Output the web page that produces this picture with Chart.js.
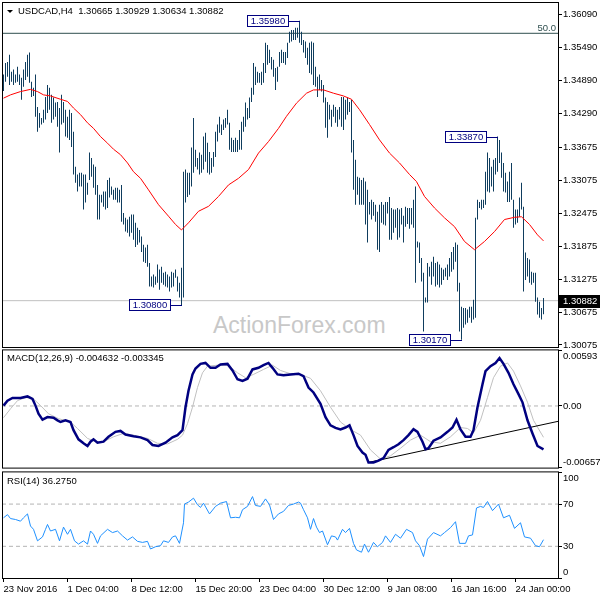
<!DOCTYPE html>
<html>
<head>
<meta charset="utf-8">
<title>USDCAD,H4</title>
<script src="https://cdn.jsdelivr.net/npm/chart.js@4.4.1/dist/chart.umd.min.js"></script>
<style>
    body { margin: 0; background: #fff; }
    #wrap { position: relative; width: 600px; height: 600px; overflow: hidden; font-family: 'Liberation Sans', Arial, sans-serif; }
    canvas { position: absolute; left: 0; }
    .txt { position: absolute; font-size: 9.5px; line-height: 12px; color: #000; white-space: pre; }
    .mark { position: absolute; font-size: 23px; line-height: 23px; color: #c8c8c8; white-space: pre; }
    .tri { position: absolute; left: 7px; top: 10px; width: 0; height: 0; border-left: 3px solid transparent; border-right: 3px solid transparent; border-top: 3px solid #000; }
</style>
</head>
<body>
<div id="wrap">
    <div class="mark" style="left:213px;top:314px">ActionForex.com</div>
    <canvas id="main" width="600" height="368" style="top:-9px"></canvas>
    <canvas id="macd" width="600" height="142" style="top:338px"></canvas>
    <canvas id="rsi" width="600" height="140" style="top:460px"></canvas>
    <div class="tri"></div>
    <div class="txt" style="left:18px;top:5px">USDCAD,H4  1.30665 1.30929 1.30634 1.30882</div>
    <div class="txt" style="right:44px;top:22px;color:#2f4f4f">50.0</div>
    <div class="txt" style="left:7px;top:352px">MACD(12,26,9) -0.004632 -0.003345</div>
    <div class="txt" style="left:7px;top:475px">RSI(14) 36.2750</div>
</div>
<script>
(function () {
    'use strict';

    // H4 bars, one entry per bar (index 0 = first bar on the left)
    var barHigh = [
        1.3500, 1.3521, 1.3523, 1.3536, 1.3505, 1.3509, 1.3500, 1.3514, 1.3500, 1.3494,
        1.3509, 1.3523, 1.3536, 1.3540, 1.3487, 1.3476, 1.3500, 1.3441, 1.3430, 1.3421,
        1.3436, 1.3459, 1.3481, 1.3476, 1.3463, 1.3458, 1.3449, 1.3450, 1.3439, 1.3463,
        1.3450, 1.3436, 1.3423, 1.3436, 1.3430, 1.3396, 1.3332, 1.3318, 1.3321, 1.3321,
        1.3318, 1.3318, 1.3303, 1.3358, 1.3348, 1.3336, 1.3332, 1.3299, 1.3281, 1.3281,
        1.3287, 1.3287, 1.3308, 1.3312, 1.3296, 1.3290, 1.3294, 1.3294, 1.3290, 1.3299,
        1.3248, 1.3239, 1.3236, 1.3241, 1.3245, 1.3245, 1.3230, 1.3221, 1.3217, 1.3205,
        1.3190, 1.3185, 1.3190, 1.3157, 1.3132, 1.3136, 1.3132, 1.3154, 1.3145, 1.3150,
        1.3139, 1.3141, 1.3136, 1.3132, 1.3141, 1.3139, 1.3145, 1.3132, 1.3121, 1.3148,
        1.3323, 1.3327, 1.3321, 1.3321, 1.3367, 1.3421, 1.3363, 1.3348, 1.3358, 1.3354,
        1.3387, 1.3394, 1.3376, 1.3359, 1.3348, 1.3359, 1.3396, 1.3409, 1.3423, 1.3409,
        1.3418, 1.3421, 1.3436, 1.3412, 1.3385, 1.3381, 1.3385, 1.3381, 1.3399, 1.3414,
        1.3423, 1.3449, 1.3439, 1.3458, 1.3476, 1.3521, 1.3514, 1.3505, 1.3503, 1.3505,
        1.3521, 1.3558, 1.3554, 1.3545, 1.3532, 1.3527, 1.3512, 1.3514, 1.3541, 1.3545,
        1.3541, 1.3541, 1.3558, 1.3578, 1.3581, 1.3581, 1.3585, 1.3585, 1.3598, 1.3578,
        1.3563, 1.3560, 1.3549, 1.3558, 1.3560, 1.3558, 1.3514, 1.3496, 1.3500, 1.3490,
        1.3481, 1.3458, 1.3450, 1.3445, 1.3436, 1.3445, 1.3441, 1.3436, 1.3441, 1.3459,
        1.3459, 1.3454, 1.3458, 1.3450, 1.3454, 1.3381, 1.3345, 1.3314, 1.3312, 1.3308,
        1.3312, 1.3305, 1.3290, 1.3268, 1.3272, 1.3268, 1.3263, 1.3250, 1.3263, 1.3268,
        1.3263, 1.3268, 1.3268, 1.3277, 1.3257, 1.3254, 1.3254, 1.3257, 1.3254, 1.3257,
        1.3243, 1.3259, 1.3257, 1.3257, 1.3257, 1.3272, 1.3296, 1.3196, 1.3194, 1.3166,
        1.3139, 1.3094, 1.3157, 1.3150, 1.3159, 1.3168, 1.3157, 1.3159, 1.3154, 1.3148,
        1.3145, 1.3148, 1.3154, 1.3166, 1.3177, 1.3186, 1.3194, 1.3190, 1.3121, 1.3077,
        1.3075, 1.3075, 1.3072, 1.3077, 1.3077, 1.3090, 1.3239, 1.3272, 1.3268, 1.3272,
        1.3272, 1.3323, 1.3358, 1.3348, 1.3332, 1.3345, 1.3348, 1.3387, 1.3381, 1.3358,
        1.3339, 1.3321, 1.3305, 1.3323, 1.3339, 1.3272, 1.3254, 1.3254, 1.3276, 1.3303,
        1.3259, 1.3176, 1.3166, 1.3163, 1.3141, 1.3139, 1.3139, 1.3094, 1.3086, 1.3075,
        1.30929
    ];
    var barLow = [
        1.3470, 1.3487, 1.3496, 1.3481, 1.3487, 1.3481, 1.3485, 1.3487, 1.3481, 1.3454,
        1.3478, 1.3490, 1.3496, 1.3485, 1.3459, 1.3461, 1.3423, 1.3396, 1.3403, 1.3409,
        1.3412, 1.3418, 1.3430, 1.3436, 1.3412, 1.3418, 1.3423, 1.3405, 1.3358, 1.3409,
        1.3412, 1.3387, 1.3385, 1.3381, 1.3368, 1.3318, 1.3303, 1.3287, 1.3296, 1.3296,
        1.3254, 1.3267, 1.3281, 1.3308, 1.3314, 1.3294, 1.3281, 1.3236, 1.3236, 1.3267,
        1.3259, 1.3254, 1.3257, 1.3276, 1.3281, 1.3272, 1.3272, 1.3267, 1.3267, 1.3232,
        1.3227, 1.3214, 1.3212, 1.3205, 1.3212, 1.3199, 1.3186, 1.3190, 1.3194, 1.3177,
        1.3159, 1.3157, 1.3150, 1.3114, 1.3114, 1.3112, 1.3117, 1.3121, 1.3108, 1.3121,
        1.3117, 1.3114, 1.3112, 1.3105, 1.3112, 1.3114, 1.3130, 1.3105, 1.3094, 1.3080,
        1.3094, 1.3267, 1.3277, 1.3281, 1.3296, 1.3321, 1.3332, 1.3327, 1.3318, 1.3321,
        1.3327, 1.3341, 1.3321, 1.3318, 1.3321, 1.3332, 1.3350, 1.3378, 1.3394, 1.3390,
        1.3399, 1.3403, 1.3409, 1.3363, 1.3359, 1.3359, 1.3359, 1.3359, 1.3363, 1.3363,
        1.3396, 1.3405, 1.3418, 1.3421, 1.3450, 1.3463, 1.3481, 1.3485, 1.3485, 1.3481,
        1.3485, 1.3503, 1.3518, 1.3521, 1.3509, 1.3496, 1.3472, 1.3487, 1.3514, 1.3521,
        1.3521, 1.3518, 1.3530, 1.3558, 1.3560, 1.3563, 1.3563, 1.3567, 1.3558, 1.3554,
        1.3540, 1.3530, 1.3518, 1.3503, 1.3500, 1.3481, 1.3478, 1.3459, 1.3472, 1.3469,
        1.3449, 1.3403, 1.3385, 1.3418, 1.3405, 1.3423, 1.3412, 1.3405, 1.3418, 1.3405,
        1.3399, 1.3418, 1.3427, 1.3432, 1.3358, 1.3290, 1.3263, 1.3281, 1.3263, 1.3263,
        1.3263, 1.3227, 1.3194, 1.3245, 1.3236, 1.3243, 1.3232, 1.3181, 1.3177, 1.3230,
        1.3227, 1.3225, 1.3247, 1.3199, 1.3199, 1.3212, 1.3221, 1.3199, 1.3203, 1.3227,
        1.3194, 1.3223, 1.3228, 1.3219, 1.3227, 1.3221, 1.3121, 1.3185, 1.3157, 1.3123,
        1.3032, 1.3085, 1.3085, 1.3132, 1.3117, 1.3132, 1.3114, 1.3117, 1.3112, 1.3117,
        1.3126, 1.3132, 1.3126, 1.3132, 1.3141, 1.3145, 1.3159, 1.3105, 1.3032, 1.3017,
        1.3039, 1.3045, 1.3048, 1.3057, 1.3048, 1.3054, 1.3057, 1.3236, 1.3257, 1.3254,
        1.3257, 1.3263, 1.3287, 1.3285, 1.3296, 1.3287, 1.3318, 1.3323, 1.3339, 1.3312,
        1.3287, 1.3285, 1.3268, 1.3268, 1.3272, 1.3221, 1.3227, 1.3230, 1.3241, 1.3254,
        1.3105, 1.3126, 1.3132, 1.3121, 1.3117, 1.3121, 1.3086, 1.3063, 1.3057, 1.3054,
        1.30634
    ];

    // red moving average, read at bar positions
    var maIndex = [0, 3.5, 8.5, 13.5, 17, 20, 23.5, 28.5, 32, 35, 38.5, 42, 45, 48.5, 52, 55, 58.5, 62, 65, 68.5,
        72.5, 77.5, 82.5, 86, 89, 92.5, 97.5, 102.5, 107.5, 112.5, 117.5, 122.5, 127.5, 132.5, 137.5, 141.5, 146.5, 151.5, 155, 160,
        165, 170, 174, 178, 183, 188, 193, 198, 203, 206.5, 210.5, 215.5, 220.5, 225.5, 230.5, 235.5, 240.5, 245.5, 250.5, 255.5,
        259, 263, 267, 270];
    var maValue = [1.3457, 1.3463, 1.3469, 1.3473, 1.3469, 1.3463, 1.3461, 1.3455, 1.3451, 1.3439, 1.3427, 1.3412, 1.3402, 1.3387, 1.3375, 1.3364, 1.3354, 1.3339, 1.3323, 1.3311,
        1.3290, 1.3263, 1.3242, 1.3227, 1.3217, 1.3230, 1.3251, 1.3260, 1.3278, 1.3299, 1.3311, 1.3327, 1.3357, 1.3378, 1.3402, 1.3424, 1.3448, 1.3466, 1.3472, 1.3472,
        1.3466, 1.3461, 1.3455, 1.3436, 1.3409, 1.3381, 1.3357, 1.3339, 1.3318, 1.3305, 1.3278, 1.3257, 1.3239, 1.3223, 1.3196, 1.3181, 1.3196, 1.3214, 1.3236, 1.3240,
        1.3241, 1.3227, 1.3208, 1.3197];

    var macdIndex = [0, 2, 4.5, 8.5, 12, 14.5, 16, 17.5, 19.5, 22, 25, 27, 28.5, 31, 33.5, 35, 37.5, 40, 42, 43.5,
        45, 47, 50, 52.5, 56, 58.5, 61, 65, 68.5, 72, 74.5, 77.5, 81, 84.5, 87, 89.5, 91, 92.5, 94.5, 96,
        98.5, 101, 103.5, 106, 108.5, 112, 114.5, 117, 119.5, 122, 124.5, 127.5, 130, 132.5, 134.5, 137, 140, 143.5, 147.5, 150,
        152.5, 155, 158.5, 161, 163.5, 166, 168.5, 171, 173, 175, 177, 179.5, 181, 182.5, 185, 187.5, 190, 192.5, 195, 197.5,
        200, 202.5, 205, 207, 209.5, 211, 212.5, 215, 218.5, 222, 224.5, 226.5, 228.5, 231, 233.5, 235, 237, 239.5, 241, 243.5,
        246, 248, 250, 252.5, 255, 257.5, 259.5, 262, 264.5, 267, 270];
    var macdValue = [0.00004, 0.00057, 0.00085, 0.00085, 0.00102, 0.00075, 0.00004, -0.00083, -0.00146, -0.00119,
        -0.00125, -0.00153, -0.00171, -0.00153, -0.00171, -0.00258, -0.00356, -0.00398, -0.00427, -0.00381,
        -0.00356, -0.00392, -0.00381, -0.00329, -0.00276, -0.00266, -0.00304, -0.00322, -0.00335, -0.00364,
        -0.00416, -0.00427, -0.00392, -0.00335, -0.00311, -0.00258, -0.00014, 0.00162, 0.00337, 0.00400,
        0.00449, 0.00459, 0.00407, 0.00407, 0.00442, 0.00449, 0.00379, 0.00285, 0.00267, 0.00291,
        0.00390, 0.00407, 0.00435, 0.00459, 0.00407, 0.00337, 0.00327, 0.00337, 0.00344, 0.00319,
        0.00197, 0.00144, 0.00022, -0.00119, -0.00206, -0.00234, -0.00251, -0.00230, -0.00206, -0.00311,
        -0.00427, -0.00497, -0.00521, -0.00602, -0.00602, -0.00584, -0.00556, -0.00469, -0.00440, -0.00409,
        -0.00364, -0.00311, -0.00248, -0.00276, -0.00381, -0.00461, -0.00451, -0.00371, -0.00335, -0.00276,
        -0.00230, -0.00146, -0.00251, -0.00329, -0.00329, -0.00258, -0.00014, 0.00232, 0.00372, 0.00425,
        0.00459, 0.00512, 0.00449, 0.00354, 0.00232, 0.00127, 0.00039, -0.00153, -0.00293, -0.00427,
        -0.004632];

    var signalIndex = [0, 3.5, 7, 11, 15, 18.5, 22.5, 27.5, 33.5, 37, 42, 46, 50, 55, 60, 65, 72, 77, 82, 87,
        89.5, 92, 94.5, 97, 99.5, 102, 107, 112, 117, 121, 125, 130, 134.5, 138.5, 143.5, 148.5, 153.5, 158.5, 163.5, 168.5,
        173.5, 178.5, 183.5, 188.5, 193.5, 198.5, 203.5, 208.5, 213.5, 218.5, 223.5, 228.5, 232, 235, 238.5, 242, 245, 248.5, 252, 255,
        258.5, 262, 265, 270];
    var signalValue = [-0.00125, -0.00030, 0.00057, 0.00091, 0.00075, 0.00005, -0.00083, -0.00135, -0.00171, -0.00240,
        -0.00346, -0.00381, -0.00381, -0.00329, -0.00293, -0.00311, -0.00346, -0.00398, -0.00405, -0.00356,
        -0.00311, -0.00188, -0.00013, 0.00197, 0.00354, 0.00425, 0.00435, 0.00435, 0.00354, 0.00302,
        0.00337, 0.00390, 0.00435, 0.00379, 0.00344, 0.00337, 0.00295, 0.00162, -0.00013, -0.00171,
        -0.00251, -0.00311, -0.00469, -0.00566, -0.00532, -0.00451, -0.00364, -0.00311, -0.00381, -0.00398,
        -0.00329, -0.00230, -0.00240, -0.00287, -0.00153, 0.00091, 0.00302, 0.00425, 0.00459, 0.00372,
        0.00214, 0.00039, -0.00153, -0.003345];

    var rsiIndex = [0, 2, 3.5, 6, 8.5, 10, 12, 13.5, 15, 17, 19.5, 21, 22, 23.5, 26, 28, 30, 32, 33.5, 35.5,
        37.5, 40, 42, 43.5, 45, 47, 48.5, 52, 54.5, 57, 59.5, 62, 64.5, 67, 69.5, 72, 73.5, 76, 78.5, 80,
        82.5, 84.5, 86, 88, 90, 90.5, 92.5, 95, 97, 98.5, 100, 103, 106, 108.5, 111.5, 113.5, 116, 118, 119.5, 122,
        124.5, 126, 128.5, 131, 133, 135, 137.5, 140, 142.5, 145, 147.5, 148.5, 150, 152, 153.5, 155, 156.5, 158, 159.5, 162,
        164, 166, 167, 169.5, 171, 173, 175, 176.5, 179, 180.5, 182.5, 185, 187, 189.5, 191, 193.5, 196, 198.5, 201.5, 204.5,
        206, 208, 210, 212, 215, 218.5, 220.5, 223.5, 226, 228, 231, 232.5, 234.5, 236.5, 238.5, 240, 242, 244.5, 247.5, 250,
        253, 255.5, 258.5, 260.5, 263.5, 266, 268, 270];
    var rsiValue = [57.0, 60.0, 56.3, 55.4, 53.8, 57.0, 60.7, 49.2, 46.1, 35.2, 38.9, 46.1, 50.7, 44.5, 46.1, 35.2, 48.2, 41.4, 46.1, 35.2,
        32.1, 35.2, 32.1, 44.5, 41.4, 32.8, 39.9, 46.1, 43.0, 44.5, 39.9, 35.9, 38.9, 34.7, 33.7, 34.7, 27.5, 29.6, 30.6, 35.2,
        33.7, 38.9, 39.9, 32.8, 52.3, 70.0, 71.9, 75.6, 69.3, 66.8, 70.9, 60.7, 67.8, 70.9, 72.4, 57.0, 57.5, 57.0, 64.7, 67.8,
        77.1, 68.7, 67.8, 74.9, 69.3, 55.4, 60.7, 63.1, 68.7, 70.0, 71.9, 70.9, 64.7, 57.0, 46.1, 56.3, 48.2, 43.0, 44.5, 31.5,
        39.9, 38.9, 35.9, 46.1, 43.0, 47.0, 32.8, 26.6, 24.4, 32.1, 24.4, 33.7, 29.6, 33.7, 39.9, 33.7, 41.4, 37.7, 46.1, 43.0,
        35.2, 30.6, 20.3, 36.8, 43.0, 39.9, 43.0, 47.7, 53.3, 32.8, 32.8, 39.9, 40.8, 66.3, 67.8, 66.8, 72.4, 63.8, 70.0, 57.0,
        59.4, 47.0, 52.3, 38.9, 37.7, 30.6, 29.6, 36.275];

    // MACD support line drawn by hand on the chart
    var trendIndex = [182.5, 277.25];
    var trendValue = [-0.00602, -0.00164];

    var priceTicks = [1.36090, 1.35490, 1.34890, 1.34290, 1.33675, 1.33075, 1.32475, 1.31875, 1.31275, 1.30675, 1.30075];
    var macdTicks = [0.00593, 0, -0.006575];
    var rsiTicks = [100, 70, 30, 0];
    var rsiLevels = [70, 30];
    var timeTickIndex = [0, 32, 64, 96, 128, 160, 192, 224, 256];
    var timeLabels = ['23 Nov 2016', '1 Dec 04:00', '8 Dec 12:00', '15 Dec 20:00', '23 Dec 04:00',
        '30 Dec 12:00', '9 Jan 08:00', '16 Jan 16:00', '24 Jan 00:00'];

    var tagIndex = [148, 89, 247, 229];
    var tagPrice = [1.35980, 1.30800, 1.33870, 1.30170];
    var fiboLevel = 1.35751;
    var lastClose = 1.30882;

    var X_MIN = -0.75;
    var X_MAX = 277.25;
    var PAD = 12;
    var FONT = "'Liberation Sans', Arial, sans-serif";

    Chart.defaults.font.family = FONT;
    Chart.defaults.font.size = 9.5;
    Chart.defaults.color = '#000';

    function pairs(xs, ys) {
        return xs.map(function (x, k) {
            return { x: x, y: ys[k] };
        });
    }

    function level(value) {
        return [{ x: X_MIN, y: value }, { x: X_MAX, y: value }];
    }

    function lineSet(data, color, width, order, dash) {
        return {
            type: 'line',
            data: data,
            borderColor: color,
            borderWidth: width,
            borderDash: dash || [],
            pointRadius: 0,
            tension: 0,
            order: order
        };
    }

    function xAxis(show) {
        return {
            type: 'linear',
            display: show,
            min: X_MIN,
            max: X_MAX,
            offset: false,
            grid: { drawOnChartArea: false, drawTicks: true, tickLength: 4, color: '#000' },
            border: { display: false },
            afterBuildTicks: function (scale) {
                scale.ticks = timeTickIndex.map(function (v) { return { value: v }; });
            },
            afterFit: function (scale) {
                scale.height = show ? 22 : 0;
            },
            ticks: {
                autoSkip: false,
                maxRotation: 0,
                minRotation: 0,
                align: 'start',
                padding: 2,
                callback: function (value) {
                    var k = timeTickIndex.indexOf(value);
                    return k < 0 ? '' : timeLabels[k];
                }
            }
        };
    }

    function yAxis(min, max, values, label) {
        return {
            type: 'linear',
            position: 'right',
            min: min,
            max: max,
            grid: { drawOnChartArea: false, drawTicks: true, tickLength: 4, color: '#000' },
            border: { display: false },
            afterBuildTicks: function (scale) {
                scale.ticks = values.map(function (v) { return { value: v }; });
            },
            afterFit: function (scale) {
                scale.width = 42;
            },
            ticks: { autoSkip: false, padding: 1, callback: label }
        };
    }

    var framePlugin = {
        id: 'panelFrame',
        afterDraw: function (chart) {
            var a = chart.chartArea;
            var ctx = chart.ctx;
            ctx.save();
            ctx.strokeStyle = '#000';
            ctx.lineWidth = 1;
            ctx.strokeRect(a.left + 0.5, a.top - 0.5, a.right - a.left, a.bottom - a.top + 1);
            ctx.restore();
        }
    };

    var tagPlugin = {
        id: 'priceTags',
        afterDatasetsDraw: function (chart) {
            var xs = chart.scales.x;
            var ys = chart.scales.y;
            var ctx = chart.ctx;

            ctx.save();
            ctx.font = '9.5px ' + FONT;
            ctx.textBaseline = 'middle';
            ctx.lineWidth = 1;

            tagIndex.forEach(function (idx, k) {
                var bx = Math.floor(xs.getPixelForValue(idx));
                var by = Math.round(ys.getPixelForValue(tagPrice[k]));
                var w = 42;
                var left = bx - 10 - w;
                var top = by - 6;

                ctx.fillStyle = '#fff';
                ctx.fillRect(left, top, w, 12);
                ctx.strokeStyle = '#000080';
                ctx.strokeRect(left + 0.5, top + 0.5, w - 1, 11);
                ctx.beginPath();
                ctx.moveTo(left + w, by + 0.5);
                ctx.lineTo(bx + 1, by + 0.5);
                ctx.stroke();
                ctx.fillStyle = '#000080';
                ctx.textAlign = 'center';
                ctx.fillText(tagPrice[k].toFixed(5), left + w / 2, by + 0.5);
            });

            var cy = Math.round(ys.getPixelForValue(lastClose));
            ctx.fillStyle = '#000';
            ctx.fillRect(chart.chartArea.right + 1, cy - 6, 41, 13);
            ctx.fillStyle = '#fff';
            ctx.textAlign = 'left';
            ctx.fillText(lastClose.toFixed(5), chart.chartArea.right + 5, cy + 0.5);
            ctx.restore();
        }
    };

    var barData = barLow.map(function (lo, i) {
        return { x: i, y: [lo, barHigh[i]] };
    });

    var common = {
        responsive: false,
        animation: false,
        events: [],
        plugins: { legend: { display: false }, tooltip: { enabled: false } }
    };

    new Chart(document.getElementById('main'), {
        type: 'bar',
        data: {
            datasets: [
                lineSet(pairs(maIndex, maValue), '#ff0000', 1, 0),
                {
                    type: 'bar',
                    data: barData,
                    backgroundColor: '#0f3d5e',
                    borderWidth: 0,
                    barThickness: 1,
                    inflateAmount: 0,
                    order: 1
                },
                lineSet(level(fiboLevel), '#2f4f4f', 1, 2),
                lineSet(level(lastClose), '#c0c0c0', 1, 3)
            ]
        },
        options: Object.assign({}, common, {
            layout: { padding: { left: 2, top: PAD, right: 0, bottom: PAD } },
            scales: {
                x: xAxis(false),
                y: yAxis(1.30038, 1.36303, priceTicks, function (v) { return v.toFixed(5); })
            }
        }),
        plugins: [framePlugin, tagPlugin]
    });

    new Chart(document.getElementById('macd'), {
        type: 'line',
        data: {
            datasets: [
                lineSet(level(0), '#b4b4b4', 1, 3, [4, 3]),
                lineSet(pairs(signalIndex, signalValue), '#c0c0c0', 1, 2),
                lineSet(pairs(trendIndex, trendValue), '#000', 1, 1),
                lineSet(pairs(macdIndex, macdValue), '#000080', 2.5, 0)
            ]
        },
        options: Object.assign({}, common, {
            layout: { padding: { left: 2, top: PAD, right: 0, bottom: PAD } },
            scales: {
                x: xAxis(false),
                y: yAxis(macdTicks[2], macdTicks[0], macdTicks, function (v) {
                    if (v === macdTicks[0]) { return ['', '0.00593']; }
                    if (v === macdTicks[2]) { return ['-0.006575', '']; }
                    return '0.00';
                })
            }
        }),
        plugins: [framePlugin]
    });

    new Chart(document.getElementById('rsi'), {
        type: 'line',
        data: {
            datasets: [
                lineSet(level(rsiLevels[0]), '#b4b4b4', 1, 2, [4, 3]),
                lineSet(level(rsiLevels[1]), '#b4b4b4', 1, 2, [4, 3]),
                lineSet(pairs(rsiIndex, rsiValue), '#1e90ff', 1, 0)
            ]
        },
        options: Object.assign({}, common, {
            layout: { padding: { left: 2, top: PAD, right: 0, bottom: 0 } },
            scales: {
                x: xAxis(true),
                y: yAxis(0, 100, rsiTicks, function (v) {
                    if (v === 100) { return ['', '100']; }
                    if (v === 0) { return ['0', '']; }
                    return String(v);
                })
            }
        }),
        plugins: [framePlugin]
    });
})();
</script>
</body>
</html>
